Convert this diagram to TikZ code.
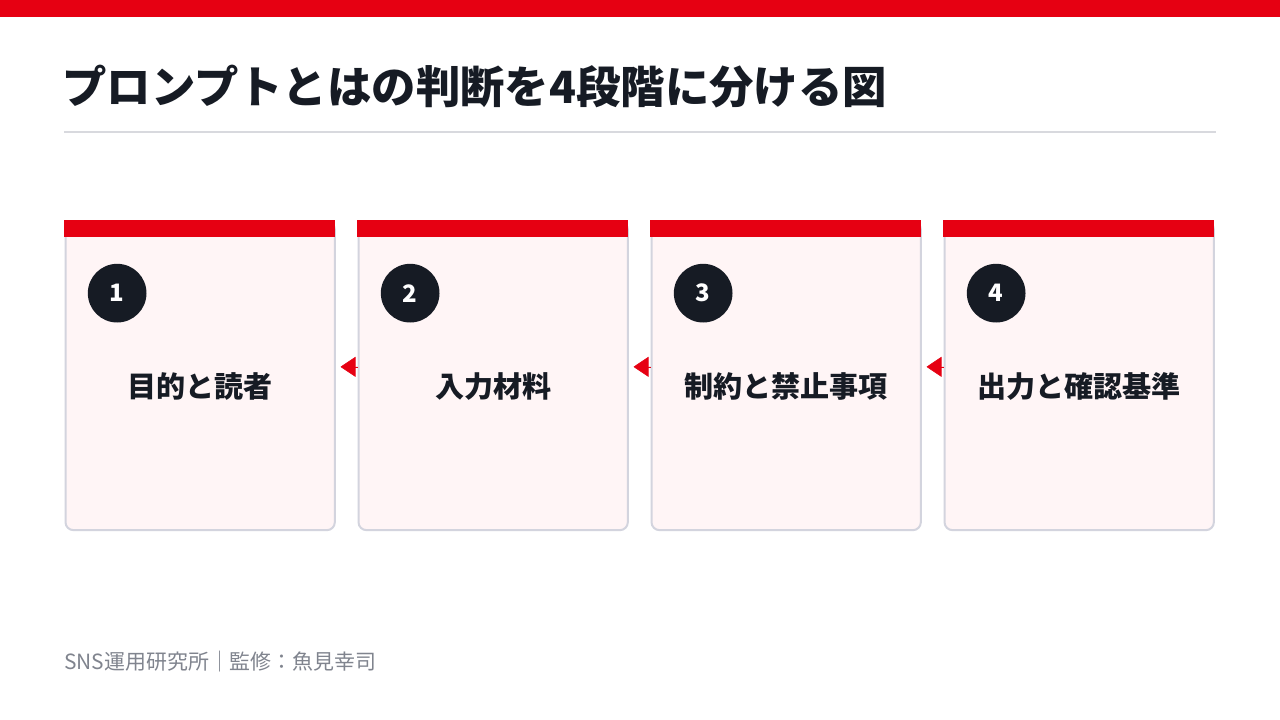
\documentclass[tikz,border=0pt]{standalone}
\usepackage{fontspec}
\setmainfont{Noto Sans CJK JP}
\usetikzlibrary{arrows.meta}

\definecolor{brandred}{HTML}{E60012}
\definecolor{inkdark}{HTML}{161B24}
\definecolor{cardfill}{HTML}{FFF5F6}
\definecolor{cardline}{HTML}{D3D4DE}
\definecolor{rulegray}{HTML}{D8D9DE}
\definecolor{footgray}{HTML}{80848E}

\tikzset{
	card/.style={draw=cardline,line width=1.5pt,fill=cardfill,rounded corners=6pt,
		minimum width=202pt,minimum height=231.5pt,anchor=north west,inner sep=0pt},
	badge/.style={circle,fill=inkdark,minimum size=44pt,inner sep=0pt,
		text=white,font=\bfseries\fontsize{18}{18}\selectfont},
	cardtitle/.style={text=inkdark,font=\bfseries\fontsize{21.8}{21.8}\selectfont},
	flow/.style={draw=brandred,line width=0.4pt,-{Triangle[length=11.25pt,width=15pt]},fill=brandred}
}

\begin{document}
\begin{tikzpicture}[x=0.75pt,y=-0.75pt]
	\useasboundingbox (0,0) rectangle (1280,720);
	\fill[white] (0,0) rectangle (1280,720);
	\fill[brandred] (0,0) rectangle (1280,17);
	\node[anchor=base west,inner sep=0pt,text=inkdark,font=\bfseries\fontsize{33.3}{33.3}\selectfont] (title) at (62,104) {プロンプトとはの判断を4段階に分ける図};
	\draw[rulegray,line width=1.5pt] (64,132) -- (1216,132);

	% cards
	\node[card] (c1) at (64.5,220.5) {};
	\node[card] (c2) at (357.5,220.5) {};
	\node[card] (c3) at (650.5,220.5) {};
	\node[card] (c4) at (943.5,220.5) {};
	\fill[brandred] ([xshift=-0.75pt,yshift=0.5pt]c1.north west) rectangle +(271,17);
	\fill[brandred] ([xshift=-0.75pt,yshift=0.5pt]c2.north west) rectangle +(271,17);
	\fill[brandred] ([xshift=-0.75pt,yshift=0.5pt]c3.north west) rectangle +(271,17);
	\fill[brandred] ([xshift=-0.75pt,yshift=0.5pt]c4.north west) rectangle +(271,17);

	\node[badge] (n1) at ([xshift=39.5pt,yshift=-54.5pt]c1.north west) {1};
	\node[badge] (n2) at ([xshift=39.5pt,yshift=-54.5pt]c2.north west) {2};
	\node[badge] (n3) at ([xshift=39.5pt,yshift=-54.5pt]c3.north west) {3};
	\node[badge] (n4) at ([xshift=39.5pt,yshift=-54.5pt]c4.north west) {4};

	\node[cardtitle] (t1) at ([yshift=-8.25pt]c1.center) {目的と読者};
	\node[cardtitle] (t2) at ([yshift=-8.25pt]c2.center) {入力材料};
	\node[cardtitle] (t3) at ([yshift=-8.25pt]c3.center) {制約と禁止事項};
	\node[cardtitle] (t4) at ([yshift=-8.25pt]c4.center) {出力と確認基準};

	% arrows point back to the previous step
	\draw[flow] ([yshift=6.75pt]c2.west) -- ([xshift=3.5pt,yshift=6.75pt]c1.east);
	\draw[flow] ([yshift=6.75pt]c3.west) -- ([xshift=3.5pt,yshift=6.75pt]c2.east);
	\draw[flow] ([yshift=6.75pt]c4.west) -- ([xshift=3.5pt,yshift=6.75pt]c3.east);

	\node[anchor=west,inner sep=0pt,text=footgray,font=\fontsize{15.7}{15.7}\selectfont] (foot) at (64,662) {SNS運用研究所｜監修：魚見幸司};
\end{tikzpicture}
\end{document}
